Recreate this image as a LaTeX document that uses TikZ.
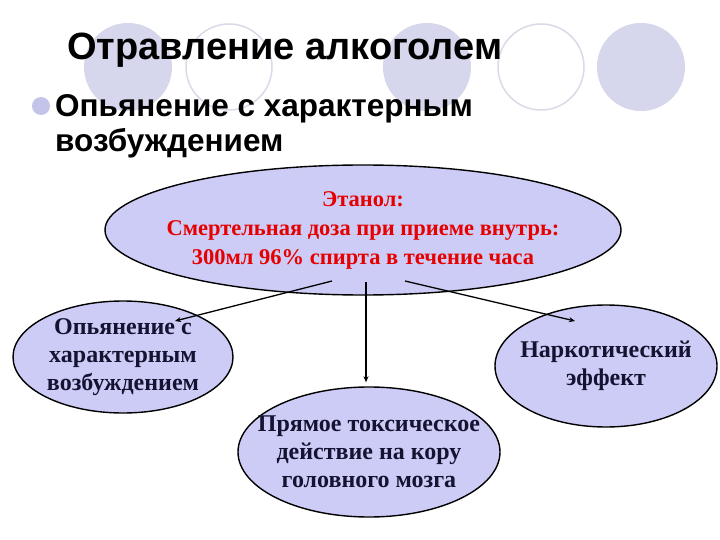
\documentclass[tikz,border=0pt]{standalone}
\usepackage{fontspec}
\setmainfont{Liberation Serif}
\setsansfont{Liberation Sans}
\usetikzlibrary{arrows.meta,shapes.geometric}

\definecolor{deco}{RGB}{214,214,236}
\definecolor{decoline}{RGB}{218,218,232}
\definecolor{bulletdot}{RGB}{196,196,234}
\definecolor{bubblefill}{RGB}{204,204,246}
\definecolor{dosered}{RGB}{230,0,0}
\definecolor{inkblue}{RGB}{20,20,50}

\begin{document}
\begin{tikzpicture}[
  x=1pt, y=-1pt,
  dot/.style={circle, fill=deco, minimum size=88pt, inner sep=0pt},
  ring/.style={circle, draw=decoline, line width=1.5pt, fill=white,
    minimum size=86pt, inner sep=0pt},
  bubble/.style={ellipse, draw=black, line width=1.4pt, fill=bubblefill,
    align=center, inner sep=-24pt, text=inkblue,
    font=\bfseries\fontsize{24}{28}\selectfont},
  link/.style={-{Stealth[length=6pt,width=5pt]}, line width=1.3pt}
]
\useasboundingbox[fill=white] (0,0) rectangle (720,540);

% decoration of the slide
\node[dot]  (c1) at (128,67) {};
\node[ring] (c2) at (229,67) {};
\node[dot]  (c3) at (427,67) {};
\node[ring] (c4) at (541,67) {};
\node[dot]  (c5) at (641,67) {};

\node[anchor=base west, inner sep=0pt,
  font=\sffamily\bfseries\fontsize{38}{44}\selectfont] (title) at (67,60)
  {Отравление алкоголем};
\node[circle, fill=bulletdot, minimum size=18pt, inner sep=0pt] (bullet) at (41,106) {};
\node[anchor=base west, align=left, inner sep=0pt,
  font=\sffamily\bfseries\fontsize{31.5}{35}\selectfont] (point) at (55,152)
  {Опьянение с характерным\\возбуждением};

% scheme
\node[bubble, minimum width=516pt, minimum height=130pt, text=dosered,
  font=\bfseries\fontsize{22.5}{29}\selectfont] (etanol) at (363,230)
  {Этанол:\\Смертельная доза при приеме внутрь:\\300мл 96\% спирта в течение часа};
\node[bubble, minimum width=220pt, minimum height=112pt] (pyan) at (123,357)
  {Опьянение с\\характерным\\возбуждением};
\node[bubble, minimum width=222pt, minimum height=122pt] (narko) at (606,366)
  {Наркотический\\эффект};
\node[bubble, minimum width=262pt, minimum height=130pt] (toks) at (369,452)
  {Прямое токсическое\\действие на кору\\головного мозга};

\draw[link] ([shift={(-31,51)}]etanol.center) -- ([shift={(52,-36)}]pyan.center);
\draw[link] ([shift={(3,52)}]etanol.center) -- ([shift={(-3,-4)}]toks.north);
\draw[link] ([shift={(42,51)}]etanol.center) -- ([shift={(-31,-45)}]narko.center);

\end{tikzpicture}
\end{document}
